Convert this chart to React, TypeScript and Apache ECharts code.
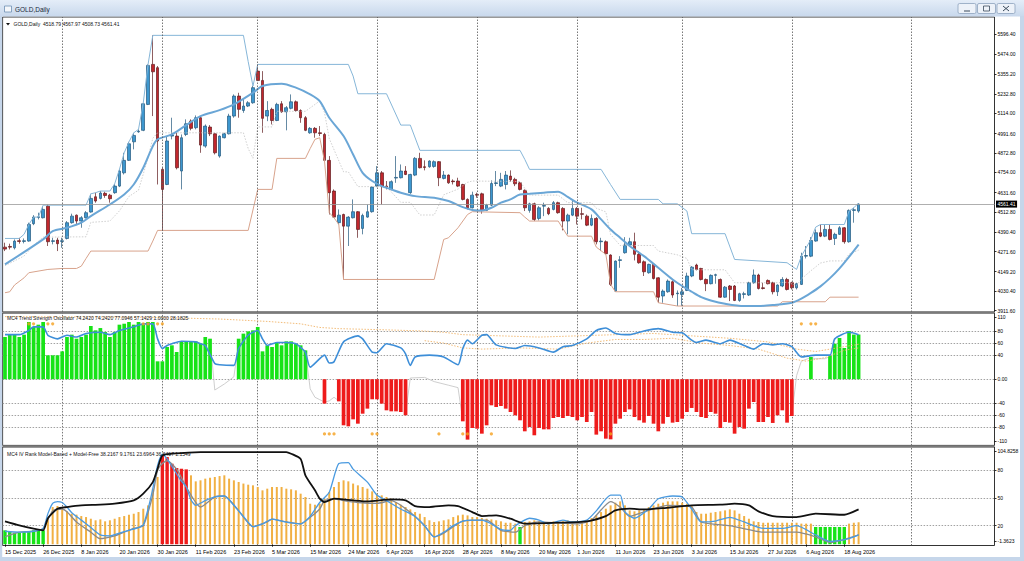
import React, { useEffect, useRef } from 'react';
import * as echarts from 'echarts';

const N_SLOTS = 208;
const FONT = '"Liberation Sans", Arial, sans-serif';

const tickLabels = ['15 Dec 2025', '26 Dec 2025', '8 Jan 2026', '20 Jan 2026', '30 Jan 2026', '11 Feb 2026', '23 Feb 2026', '5 Mar 2026', '15 Mar 2026', '24 Mar 2026', '6 Apr 2026', '16 Apr 2026', '28 Apr 2026', '8 May 2026', '20 May 2026', '1 Jun 2026', '11 Jun 2026', '23 Jun 2026', '3 Jul 2026', '15 Jul 2026', '27 Jul 2026', '6 Aug 2026', '18 Aug 2026'];
const TICK_EVERY = 8;
const monthLines = [12, 33, 53, 78, 99, 120, 142, 165, 190];

const priceLabels = [5596.4, 5474.0, 5355.2, 5232.8, 5114.0, 4991.6, 4872.8, 4754.0, 4631.6, 4512.8, 4390.4, 4271.6, 4149.2, 4030.4, 3911.6];
const oscLabelPos = [103, 80, 60, 40, 0, -40, -60, -80, -103];
const oscLabelText = ['110', '80', '60', '40', '0.00', '-40', '-60', '-80', '-110'];
const oscLevels = [80, 60, 40, 0, -40, -60, -80];
const ivLabelPos = [100.5, 80, 50, 20, 3.5];
const ivLabelText = ['104.8258', '80', '50', '20', '-1.3623'];
const ivLevels = [80, 50, 20];
const lastPrice = 4561.41;

// [open, close, low, high]
const ohlc = [
  [4299, 4287, 4275, 4326], [4303, 4299, 4285, 4320], [4295, 4336, 4285, 4346], [4338, 4334, 4320, 4356], [4334, 4338, 4322, 4352],
  [4336, 4437, 4332, 4448], [4442, 4482, 4433, 4494], [4480, 4484, 4468, 4509], [4478, 4529, 4474, 4549], [4549, 4332, 4306, 4559],
  [4334, 4338, 4316, 4356], [4342, 4320, 4275, 4356], [4334, 4338, 4295, 4356], [4352, 4448, 4346, 4458], [4448, 4488, 4442, 4503],
  [4494, 4458, 4433, 4498], [4458, 4478, 4417, 4488], [4478, 4509, 4474, 4519], [4513, 4596, 4509, 4624], [4606, 4580, 4570, 4631],
  [4596, 4629, 4590, 4641], [4627, 4614, 4600, 4637], [4616, 4594, 4570, 4624], [4631, 4671, 4624, 4685], [4671, 4763, 4665, 4773],
  [4752, 4828, 4742, 4874], [4828, 4929, 4824, 4941], [4941, 4980, 4895, 4996], [5002, 5006, 4996, 5017], [5011, 5173, 5006, 5179],
  [5169, 5407, 5165, 5413], [5413, 5368, 5098, 5590], [5393, 4946, 4681, 5403], [4773, 4651, 4401, 4783], [4681, 4946, 4677, 4976],
  [4976, 4982, 4956, 5088], [4976, 4783, 4773, 4996], [4763, 4966, 4651, 4986], [4986, 5051, 4976, 5078], [5067, 5023, 5011, 5078],
  [5027, 5088, 5017, 5102], [5088, 4921, 4874, 5098], [4915, 5037, 4905, 5047], [5031, 4990, 4976, 5043], [4990, 4874, 4864, 4996],
  [4854, 4976, 4844, 4980], [4966, 4990, 4962, 4996], [4990, 5098, 4986, 5112], [5098, 5220, 5088, 5230], [5220, 5139, 5088, 5240],
  [5132, 5159, 5118, 5206], [5159, 5179, 5153, 5189], [5179, 5271, 5173, 5281], [5372, 5315, 5311, 5413], [5315, 5084, 4996, 5372],
  [5098, 5132, 5067, 5189], [5139, 5071, 5047, 5149], [5071, 5169, 5067, 5179], [5173, 5124, 5118, 5189], [5124, 5149, 5011, 5159],
  [5145, 5185, 5139, 5230], [5185, 5132, 5124, 5193], [5132, 5088, 5057, 5139], [5088, 5011, 5006, 5098], [4996, 5023, 4990, 5031],
  [5023, 4996, 4966, 5031], [4996, 4992, 4976, 5037], [4986, 4828, 4824, 4996], [4828, 4631, 4498, 4854], [4641, 4482, 4478, 4651],
  [4448, 4494, 4437, 4529], [4498, 4427, 4102, 4503], [4427, 4482, 4306, 4488], [4478, 4515, 4474, 4590], [4515, 4407, 4356, 4519],
  [4413, 4492, 4377, 4503], [4482, 4515, 4478, 4559], [4515, 4665, 4509, 4671], [4671, 4752, 4665, 4793], [4752, 4671, 4559, 4763],
  [4671, 4667, 4651, 4702], [4651, 4698, 4645, 4706], [4720, 4724, 4691, 4854], [4722, 4763, 4718, 4803], [4763, 4742, 4738, 4793],
  [4631, 4742, 4624, 4746], [4738, 4840, 4732, 4848], [4840, 4783, 4779, 4874], [4789, 4785, 4767, 4828], [4789, 4824, 4783, 4828],
  [4791, 4820, 4783, 4828], [4820, 4722, 4671, 4824], [4718, 4738, 4712, 4763], [4738, 4691, 4685, 4742], [4702, 4698, 4681, 4712],
  [4702, 4671, 4665, 4722], [4681, 4590, 4584, 4685], [4590, 4539, 4529, 4596], [4539, 4616, 4535, 4637], [4620, 4616, 4600, 4631],
  [4624, 4523, 4503, 4631], [4523, 4555, 4519, 4563], [4555, 4687, 4549, 4706], [4687, 4691, 4671, 4763], [4671, 4712, 4665, 4752],
  [4681, 4738, 4651, 4763], [4732, 4710, 4698, 4767], [4712, 4685, 4671, 4722], [4691, 4651, 4645, 4698], [4645, 4539, 4519, 4651],
  [4523, 4563, 4509, 4570], [4563, 4468, 4458, 4570], [4474, 4539, 4462, 4549], [4549, 4553, 4488, 4570], [4535, 4503, 4494, 4543],
  [4529, 4570, 4523, 4580], [4570, 4509, 4503, 4576], [4535, 4458, 4401, 4543], [4458, 4494, 4377, 4503], [4494, 4535, 4488, 4580],
  [4535, 4488, 4437, 4543], [4503, 4499, 4468, 4539], [4488, 4433, 4427, 4498], [4433, 4474, 4427, 4498], [4474, 4332, 4316, 4482],
  [4332, 4336, 4275, 4356], [4332, 4259, 4255, 4340], [4251, 4072, 4062, 4255], [4031, 4214, 4027, 4218], [4218, 4222, 4173, 4244],
  [4265, 4312, 4259, 4360], [4312, 4332, 4306, 4356], [4332, 4255, 4218, 4387], [4255, 4204, 4198, 4275], [4210, 4149, 4123, 4218],
  [4143, 4194, 4137, 4198], [4194, 4108, 4102, 4198], [4112, 3994, 3960, 4116], [4001, 4031, 3960, 4041], [4027, 4092, 4021, 4102],
  [4088, 4007, 3990, 4096], [4015, 4019, 3940, 4035], [4011, 4027, 3940, 4051], [4035, 4123, 4031, 4143], [4123, 4177, 4116, 4183],
  [4190, 4163, 4157, 4198], [4169, 4102, 4096, 4173], [4102, 4076, 4031, 4108], [4076, 4127, 4072, 4133], [4127, 4131, 4076, 4137],
  [4102, 3994, 3990, 4108], [3994, 4055, 3990, 4062], [4062, 4041, 3970, 4068], [4062, 3974, 3970, 4068], [3974, 4015, 3966, 4021],
  [4011, 4015, 3986, 4027], [4007, 4082, 4001, 4088], [4082, 4129, 4076, 4163], [4129, 4047, 4041, 4137], [4051, 4047, 4041, 4082],
  [4096, 4076, 4072, 4102], [4082, 4027, 4011, 4088], [4027, 4068, 4001, 4072], [4062, 4102, 4055, 4116], [4102, 4041, 4035, 4112],
  [4082, 4051, 4041, 4088], [4051, 4076, 4041, 4082], [4072, 4244, 4068, 4265], [4244, 4248, 4230, 4306], [4244, 4340, 4238, 4360],
  [4336, 4387, 4332, 4407], [4387, 4366, 4360, 4437], [4366, 4407, 4360, 4437], [4407, 4346, 4340, 4437], [4352, 4377, 4312, 4387],
  [4377, 4417, 4373, 4427], [4417, 4332, 4320, 4421], [4332, 4523, 4326, 4529], [4523, 4527, 4448, 4539], [4518.79, 4561.41, 4508.73, 4567.97],
];

// thick moving average [bar, price]
const maLine = [[0, 4194], [8, 4346], [10, 4397], [13, 4417], [16, 4448], [18, 4488], [22, 4559], [25, 4620], [27, 4681], [29, 4783], [31, 4915], [32, 4956], [35, 4986], [38, 5043], [41, 5098], [45, 5134], [48, 5169], [52, 5240], [54, 5281], [58, 5295], [61, 5271], [64, 5230], [66, 5189], [68, 5088], [71, 4976], [73, 4864], [75, 4752], [77, 4702], [79, 4671], [81, 4651], [83, 4631], [86, 4610], [90, 4600], [93, 4580], [96, 4543], [98, 4526], [100, 4523], [102, 4539], [104, 4570], [106, 4590], [108, 4620], [110, 4624], [113, 4631], [116, 4637], [118, 4605], [120, 4570], [123, 4529], [125, 4468], [127, 4407], [129, 4356], [131, 4306], [134, 4244], [137, 4173], [140, 4102], [142, 4062], [144, 4027], [146, 3994], [148, 3974], [151, 3954], [155, 3940], [158, 3940], [161, 3946], [165, 3960], [167, 3985], [169, 4020], [171, 4060], [173, 4110], [175, 4170], [177, 4240], [179, 4315]];
const upperBand = [[0, 4352], [3, 4352], [4, 4377], [5, 4437], [6, 4482], [7, 4482], [8, 4555], [17, 4555], [18, 4624], [19, 4631], [20, 4641], [22, 4641], [23, 4685], [24, 4773], [25, 4874], [26, 4941], [27, 4996], [28, 5017], [29, 5179], [30, 5413], [31, 5590], [50, 5590], [51, 5430], [52, 5281], [53, 5413], [72, 5413], [73, 5342], [74, 5234], [80, 5234], [83, 5043], [85, 5043], [87, 4889], [108, 4889], [109, 4834], [110, 4773], [125, 4773], [127, 4680], [129, 4590], [137, 4590], [138, 4563], [141, 4563], [143, 4519], [144, 4381], [151, 4381], [153, 4224], [164, 4204], [166, 4163], [167, 4244], [169, 4346], [170, 4421], [171, 4437], [176, 4437], [177, 4519], [178, 4539], [179, 4568]];
const lowerBand = [[0, 4021], [1, 4027], [2, 4068], [4, 4112], [5, 4143], [9, 4163], [12, 4169], [15, 4169], [16, 4183], [17, 4230], [18, 4275], [30, 4275], [31, 4336], [32, 4401], [51, 4401], [53, 4651], [56, 4651], [57, 4840], [63, 4840], [64, 4900], [65, 4956], [66, 4966], [67, 4824], [68, 4509], [69, 4478], [70, 4437], [71, 4102], [90, 4102], [92, 4346], [93, 4356], [95, 4417], [97, 4498], [98, 4515], [108, 4509], [109, 4482], [110, 4458], [116, 4458], [118, 4366], [123, 4366], [124, 4299], [126, 4255], [127, 4072], [128, 4027], [136, 4027], [137, 3960], [141, 3940], [162, 3940], [163, 3966], [172, 3966], [173, 3994], [179, 3994]];
const midBand = [[0, 4186], [4, 4245], [6, 4310], [8, 4360], [17, 4362], [18, 4450], [22, 4458], [24, 4520], [26, 4608], [28, 4646], [30, 4844], [31, 4963], [32, 4996], [50, 4996], [51, 4900], [52, 4841], [53, 5032], [56, 5032], [57, 5127], [63, 5127], [66, 5190], [67, 5119], [68, 4961], [71, 4758], [72, 4758], [74, 4668], [80, 4668], [83, 4572], [85, 4572], [87, 4495], [90, 4495], [92, 4618], [95, 4653], [97, 4694], [98, 4702], [108, 4699], [110, 4616], [116, 4616], [118, 4570], [123, 4570], [124, 4536], [126, 4514], [127, 4376], [129, 4309], [136, 4309], [137, 4275], [141, 4252], [143, 4230], [144, 4161], [151, 4161], [153, 4082], [162, 4082], [164, 4085], [166, 4065], [167, 4105], [169, 4155], [171, 4202], [173, 4215], [176, 4215], [177, 4257], [179, 4281]];

// Trend Strength Oscillator histogram (null = not drawn)
const osc = [
  70.1, 74.0, 74.0, 70.1, 74.0, 95.0, 86.7, 90.6, 95.0, 39.7,
  39.7, 39.7, 46.3, 70.1, 74.0, 67.3, 70.1, 74.0, 88.4, 81.2,
  85.0, 78.4, 70.1, 78.4, 90.6, 92.2, 95.0, 90.6, 95.0, 90.6,
  95.0, 95.0, 29.7, 29.7, 53.5, 56.3, 45.2, 61.8, 61.8, 62.9,
  62.9, 59.0, 70.1, 67.3, null, null, null, null, null, 67.3,
  75.7, 79.5, 81.2, 86.7, 46.3, 56.3, 53.5, 61.8, 56.3, 62.9,
  62.9, 59.0, 56.3, 47.9, null, null, null, -40.6, null, null,
  -36.8, -76.6, -78.3, -66.7, -73.9, -57.3, -48.9, -33.4, -33.4, -40.6,
  -51.7, -53.4, -53.4, -54.5, -60.0, null, null, null, null, null,
  null, null, null, null, null, null, -70.0, -100.4, -81.1, -82.2,
  -90.5, -76.6, -43.4, -46.2, -44.5, -48.9, -54.5, -60.0, -68.3, -86.6,
  -79.4, -93.2, -81.1, -83.3, -83.3, -64.5, -62.8, -64.5, -61.2, -62.8,
  -68.3, -62.8, -71.1, -54.5, -92.1, -86.6, -98.8, -99.9, -73.9, -65.6,
  -54.5, -50.1, -62.8, -68.3, -72.2, -61.2, -73.9, -86.6, -73.9, -62.8,
  -72.2, -71.1, -65.6, -54.5, -47.8, -54.5, -62.8, -64.5, -54.5, -57.3,
  -81.1, -71.1, -72.2, -90.5, -79.4, -82.2, -48.9, -37.9, -71.1, -71.1,
  -62.8, -72.7, -60.0, -51.7, -72.2, -61.2, null, null, null, 36.9,
  null, null, null, 39.6, 59.0, 68.5, 51.8, 80.1, 74.2, 74.2,
];
const oscBlue = [[0, 74], [3, 74], [5, 81], [6, 87], [8, 87], [9, 73], [11, 67], [13, 73], [15, 70], [17, 76], [20, 78], [22, 74], [24, 81], [27, 87], [29, 92], [31, 92], [32, 67], [33, 51], [34, 56], [35, 59], [37, 63], [40, 62], [41, 59], [42, 56], [44, 26], [45, 24], [48, 23], [49, 51], [51, 73], [53, 81], [54, 67], [55, 56], [57, 61], [59, 61], [61, 59], [62, 53], [63, 45], [64, 20], [67, 40], [68, 27], [69, 29], [71, 62], [74, 72], [75, 67], [77, 45], [78, 44], [80, 59], [83, 52], [84, 42], [85, 23], [86, 37], [89, 40], [92, 37], [95, 24], [96, 51], [97, 65], [98, 59], [100, 73], [101, 74], [103, 57], [107, 51], [109, 56], [112, 52], [115, 45], [117, 54], [119, 56], [122, 67], [124, 81], [126, 85], [128, 76], [131, 74], [134, 80], [137, 84], [140, 78], [142, 77], [144, 65], [145, 61], [147, 65], [150, 59], [152, 65], [155, 56], [157, 50], [159, 59], [161, 57], [163, 59], [165, 54], [167, 37], [170, 40], [173, 40], [174, 67], [177, 78], [179, 74]];
const oscGraySegments = [
  [[43, 67], [44, -18], [46, -8], [48, 4], [49, 60]],
  [[63, 48], [64, -16], [65, -30], [66, -34], [67, -38], [68, -36], [69, -30], [70, -36]],
  [[84, -58], [85, 2], [88, 3], [90, -4], [93, -10], [95, -14], [96, -68]],
  [[165, -60], [166, 6], [167, 30], [169, 36], [170, 34], [172, 34], [173, 38]],
];
const oscSlow = [[0, 104], [30, 103], [45, 100], [55, 96], [62, 92], [66, 86], [70, 84], [80, 82], [88, 80], [92, 78], [96, 74], [104, 72], [112, 70], [120, 72], [128, 74], [136, 76], [144, 72], [152, 68], [160, 62], [166, 50], [170, 46], [176, 54], [179, 58]];
const oscFast = [[88, 64], [92, 60], [96, 52], [100, 50], [108, 52], [116, 50], [122, 60], [128, 66], [134, 66], [140, 68], [146, 60], [152, 56], [158, 50], [164, 35], [168, 30], [172, 36], [176, 48], [179, 52]];
const dotsTop = [5, 6, 9, 10, 29, 30, 32, 33, 167, 169, 170];
const dotsTopValue = 92;
const dotsBottom = [67, 68, 69, 77, 78, 91, 96, 97, 102, 127];
const dotsBottomValue = -91;

// IV Rank histogram
const ivRank = [
  15.0, 13.2, 12.5, 12.5, 13.2, 13.9, 15.0, 15.0, 15.0, 27.5,
  40.1, 41.2, 37.6, 35.5, 32.9, 31.9, 30.4, 29.3, 27.5, 25.8,
  26.8, 24.7, 25.8, 27.5, 29.3, 30.4, 31.9, 32.9, 34.7, 38.3,
  41.9, 59.9, 72.5, 95.8, 94.0, 86.8, 82.2, 81.4, 80.7, 74.3,
  67.8, 68.9, 70.7, 71.7, 72.5, 73.5, 74.3, 70.7, 68.9, 67.1,
  65.4, 64.2, 63.5, 61.7, 58.1, 59.9, 61.7, 61.7, 61.7, 59.9,
  59.2, 58.1, 54.5, 50.9, 43.7, 42.6, 43.7, 49.1, 56.3, 61.7,
  67.1, 68.9, 67.8, 65.4, 63.5, 61.7, 59.9, 57.0, 54.5, 52.7,
  50.9, 49.1, 45.5, 42.6, 40.1, 37.6, 34.7, 32.9, 29.3, 25.8,
  23.9, 24.7, 25.8, 26.8, 29.3, 31.1, 31.9, 31.1, 29.3, 29.3,
  28.3, 27.5, 26.8, 25.8, 24.7, 23.2, 23.2, 22.2, 18.6, 24.0,
  24.7, 25.8, 24.7, 24.0, 24.0, 24.7, 24.0, 24.7, 25.8, 24.7,
  24.0, 24.7, 25.8, 28.3, 31.1, 34.7, 38.3, 41.9, 44.8, 46.2,
  41.9, 36.5, 35.5, 36.5, 37.6, 40.1, 41.9, 43.7, 44.8, 46.2,
  46.2, 46.2, 44.8, 43.7, 41.9, 34.7, 32.9, 32.9, 34.0, 34.7,
  35.5, 36.5, 37.6, 36.5, 32.9, 30.4, 27.5, 24.7, 24.0, 23.2,
  23.2, 23.2, 23.2, 23.2, 23.2, 23.2, 23.2, 22.2, 22.2, 22.2,
  18.6, 18.6, 18.6, 18.6, 18.6, 18.6, 18.6, 22.2, 23.2, 23.7,
];
const ivGreenRanges = [[0, 8], [108, 108], [170, 176]];
const ivRedRanges = [[33, 38]];
const ivBlack = [[0, 24.7], [3, 20.4], [6, 16.8], [8, 15], [9, 28], [11, 38.3], [13, 40.1], [16, 41.9], [20, 42.6], [23, 43.7], [27, 47.3], [29, 54.5], [31, 67], [32, 81.4], [33, 95.8], [35, 97.6], [41, 99.4], [59, 99.4], [60, 97.6], [62, 92], [63, 74.3], [65, 58.1], [66, 49.1], [67, 45.5], [69, 49.1], [73, 47.3], [76, 46.2], [81, 48.4], [84, 47.3], [86, 41.2], [89, 40.1], [93, 41.9], [95, 41.2], [98, 34.7], [100, 30.4], [103, 31.1], [106, 27.5], [109, 22.2], [116, 23.2], [122, 24.7], [126, 30.4], [128, 36.5], [131, 38.3], [134, 37.6], [138, 39], [144, 41.9], [150, 42.6], [153, 43.7], [156, 41.9], [158, 35.5], [161, 30.4], [166, 29.3], [170, 32.9], [176, 31.8], [179, 37.6]];
const ivBlue = [[0, 14], [3, 13], [6, 14], [8, 17], [9, 33], [10, 44], [11, 46], [12, 45], [13, 40], [14, 34], [16, 26], [18, 18], [20, 10], [22, 9], [24, 12], [26, 15], [28, 18], [29, 21], [30, 38], [31, 60], [32, 85], [33, 97], [34, 92], [35, 84], [36, 76], [37, 68], [38, 62], [39, 48], [40, 42], [42, 47], [44, 51], [46, 52], [48, 42], [50, 30], [52, 19], [54, 22], [56, 27], [58, 25], [60, 23], [62, 22], [64, 30], [66, 45], [68, 56], [70, 87], [72, 88], [73, 81], [76, 67], [78, 53], [80, 47], [83, 38], [86, 30], [88, 20], [90, 8], [92, 13], [94, 20], [96, 25], [98, 26], [100, 26], [102, 22], [104, 16], [106, 15], [107, 20], [110, 28], [112, 26], [114, 22], [117, 26], [119, 24], [122, 26], [124, 36], [127, 53], [129, 53], [130, 35], [132, 28], [135, 38], [137, 49], [140, 52], [142, 51], [144, 38], [146, 24], [149, 25], [152, 29], [155, 24], [159, 17], [163, 17], [166, 20], [170, 10], [173, 3], [177, 6], [179, 10]];
const ivGray = [[0, 8], [3, 13], [6, 14], [8, 17], [10, 36], [12, 38], [13, 35], [15, 24], [18, 13], [20, 6], [23, 9], [25, 13], [27, 17], [29, 20], [31, 53], [32, 80], [33, 87], [34, 90], [36, 81], [38, 62], [40, 45], [41, 40], [44, 51], [46, 52], [49, 36], [52, 19], [55, 24], [56, 27], [59, 24], [62, 22], [64, 29], [66, 38], [67, 47], [69, 49], [71, 47], [74, 45], [78, 44], [81, 47], [83, 42], [86, 30], [88, 20], [90, 8], [92, 12], [96, 25], [101, 26], [104, 15], [107, 13], [109, 20], [112, 24], [116, 23], [120, 22], [123, 26], [127, 46], [129, 40], [131, 30], [134, 35], [139, 42], [144, 40], [146, 24], [152, 20], [159, 13], [166, 13], [170, 8], [173, 2], [176, 5], [179, 10]];

const UP = '#3d97cf', DOWN = '#c1272d', UPB = '#23587c', DOWNB = '#5e1a1c';
const GREEN = '#17e317', RED = '#ee1b1b', ORANGE = '#f1b043';

const inRanges = (i, ranges) => ranges.some(([a, b]) => i >= a && i <= b);
const lookupText = (pos, text) => (v) => {
  const k = pos.findIndex((p) => Math.abs(p - v) < 1e-6);
  return k >= 0 ? text[k] : '';
};

function buildOption() {
  const cats = Array.from({ length: N_SLOTS }, (_, i) => String(i));
  const showTick = (idx) => idx % TICK_EVERY === 0 && idx / TICK_EVERY < tickLabels.length;
  const grids = [
    { left: 2.6, top: 17, width: 991.9, height: 295 },
    { left: 2.6, top: 313, width: 991.9, height: 132.4 },
    { left: 2.6, top: 447, width: 991.9, height: 98.5 },
  ].map((g) => ({ ...g, show: true, borderColor: '#000', borderWidth: 0.8, backgroundColor: '#fff', containLabel: false, outerBoundsMode: 'none' }));

  const hiddenX = (gridIndex) => ({
    type: 'category', gridIndex, data: cats, boundaryGap: true,
    axisLine: { show: false }, axisTick: { show: false }, axisLabel: { show: false }, splitLine: { show: false },
  });
  const xAxis = [
    hiddenX(0),
    hiddenX(1),
    {
      ...hiddenX(2),
      axisTick: { show: true, interval: (i) => showTick(i), alignWithLabel: true, length: 2.5, lineStyle: { color: '#000', width: 0.8 } },
      axisLabel: {
        show: true, interval: (i) => showTick(i), formatter: (_v, i) => tickLabels[i / TICK_EVERY] || '',
        align: 'left', fontSize: 5.5, fontFamily: FONT, color: '#000', margin: 3,
      },
    },
    hiddenX(2),
  ];
  const yBase = (gridIndex, min, max, pos, fmt) => ({
    type: 'value', gridIndex, position: 'right', min, max, scale: true,
    axisLine: { show: false }, splitLine: { show: false },
    axisTick: { show: true, customValues: pos, length: 2, lineStyle: { color: '#000', width: 0.8 } },
    axisLabel: { show: true, customValues: pos, formatter: fmt, fontSize: 5, fontFamily: FONT, color: '#000', margin: 3 },
  });
  const yAxis = [
    yBase(0, 3903.6, 5701.9, priceLabels, (v) => Number(v).toFixed(2)),
    yBase(1, -110, 110, oscLabelPos, lookupText(oscLabelPos, oscLabelText)),
    yBase(2, -1.3623, 104.8258, ivLabelPos, lookupText(ivLabelPos, ivLabelText)),
  ];

  const vLines = monthLines.map((i) => ({ xAxis: i }));
  const gridLineStyle = { color: '#555', type: [1.5, 1.5], width: 0.8 };
  const levelStyle = { color: '#8a8a8a', type: [1.5, 1.5], width: 0.8 };
  const mkLines = (extra) => ({
    silent: true, symbol: ['none', 'none'], animation: false, label: { show: false },
    lineStyle: gridLineStyle, data: [...vLines, ...extra],
  });

  const line = (xi, yi, data, color, width, extra = {}) => ({
    type: 'line', xAxisIndex: xi, yAxisIndex: yi, data, showSymbol: false, symbol: 'none',
    lineStyle: { color, width }, itemStyle: { color }, silent: true, ...extra,
  });

  const series = [
    {
      type: 'candlestick', xAxisIndex: 0, yAxisIndex: 0, data: ohlc, barWidth: 3.2, z: 2,
      itemStyle: { color: UP, color0: DOWN, borderColor: UPB, borderColor0: DOWNB, borderWidth: 0.7 },
      markLine: mkLines([
        {
          yAxis: lastPrice, lineStyle: { color: '#9a9a9a', type: 'solid', width: 0.8 },
          label: {
            show: true, position: 'end', formatter: lastPrice.toFixed(2), color: '#fff', backgroundColor: '#000',
            fontSize: 5, fontFamily: FONT, padding: [1, 1.5], distance: 1.5,
          },
        },
      ]),
    },
    line(0, 0, midBand, '#c4c4c4', 0.8, { lineStyle: { color: '#c4c4c4', width: 0.8, type: [1.5, 1.5] }, z: 3 }),
    line(0, 0, upperBand, '#86b6d8', 1, { z: 3 }),
    line(0, 0, lowerBand, '#d8a38c', 1, { z: 3 }),
    line(0, 0, maLine, '#6aa6d6', 2, { smooth: 0.3, z: 4 }),

    {
      type: 'bar', xAxisIndex: 1, yAxisIndex: 1, barWidth: 3.7, z: 2,
      data: osc.map((v) => (v === null ? null : { value: v, itemStyle: { color: v >= 0 ? GREEN : RED } })),
      markLine: { ...mkLines(oscLevels.map((v) => ({ yAxis: v, lineStyle: levelStyle }))), z: 1 },
    },
    ...oscGraySegments.map((seg) => line(1, 1, seg, '#c8c8c8', 0.9, { z: 1 })),
    line(1, 1, oscSlow, '#f0b46a', 0.9, { lineStyle: { color: '#f0b46a', width: 0.9, type: [1.5, 1.5] }, z: 3 }),
    line(1, 1, oscFast, '#f0b46a', 0.9, { lineStyle: { color: '#f0b46a', width: 0.9, type: [1.5, 1.5] }, z: 3 }),
    line(1, 1, oscBlue, '#3d8ed8', 1.6, { smooth: 0.2, z: 4 }),
    {
      type: 'scatter', xAxisIndex: 1, yAxisIndex: 1, symbolSize: 3.2, silent: true, z: 5,
      itemStyle: { color: '#f5a01e' },
      data: [...dotsTop.map((i) => [i, dotsTopValue]), ...dotsBottom.map((i) => [i, dotsBottomValue])],
    },

    {
      type: 'bar', xAxisIndex: 2, yAxisIndex: 2, barWidth: 2, z: 2, itemStyle: { color: ORANGE },
      data: ivRank.map((v, i) => (inRanges(i, ivGreenRanges) || inRanges(i, ivRedRanges) ? null : v)),
      markLine: { ...mkLines(ivLevels.map((v) => ({ yAxis: v, lineStyle: levelStyle }))), z: 1 },
    },
    {
      type: 'bar', xAxisIndex: 3, yAxisIndex: 2, barWidth: 3.4, z: 2,
      data: ivRank.map((v, i) => (inRanges(i, ivGreenRanges) ? { value: v, itemStyle: { color: GREEN } }
        : inRanges(i, ivRedRanges) ? { value: v, itemStyle: { color: RED } } : null)),
    },
    line(2, 2, ivGray, '#8a8a8a', 1.3, { smooth: 0.2, z: 3 }),
    line(2, 2, ivBlue, '#4b9be0', 1.3, { smooth: 0.2, z: 4 }),
    line(2, 2, ivBlack, '#111111', 1.8, { smooth: 0.2, z: 5 }),
  ];

  const txt = (x, y, text, size, extra = {}) => ({
    type: 'text', x, y, silent: true, z: 100,
    style: { text, fontSize: size, fontFamily: FONT, fill: '#111', verticalAlign: 'middle', ...extra },
  });
  const btn = (x) => ({
    type: 'rect', shape: { x, y: 3.5, width: 18, height: 10, r: 1.5 }, silent: true, z: 100,
    style: { fill: '#edf2f9', stroke: '#8da2bc', lineWidth: 0.8 },
  });
  const graphic = [
    {
      type: 'rect', shape: { x: 0, y: 0, width: 1024, height: 16.5 }, silent: true, z: 90,
      style: { fill: new echarts.graphic.LinearGradient(0, 0, 0, 1, [{ offset: 0, color: '#e4edf8' }, { offset: 1, color: '#c8d8ec' }]) },
    },
    { type: 'rect', shape: { x: 0, y: 16, width: 2.2, height: 545 }, silent: true, z: 90, style: { fill: '#c6d6ea' } },
    { type: 'rect', shape: { x: 1020, y: 16, width: 4, height: 545 }, silent: true, z: 90, style: { fill: '#c6d6ea' } },
    { type: 'rect', shape: { x: 0, y: 557, width: 1024, height: 4 }, silent: true, z: 90, style: { fill: '#c6d6ea' } },
    { type: 'rect', shape: { x: 4.5, y: 6, width: 7, height: 6 }, silent: true, z: 100, style: { fill: '#f4f7fb', stroke: '#6f8fb3', lineWidth: 0.8 } },
    txt(15, 9.5, 'GOLD,Daily', 6.5, { fill: '#1b2a3a' }),
    btn(958), btn(977.5), btn(997),
    { type: 'line', shape: { x1: 964, y1: 11, x2: 970, y2: 11 }, silent: true, z: 101, style: { stroke: '#3a4a5c', lineWidth: 1 } },
    { type: 'rect', shape: { x: 983.5, y: 6, width: 6, height: 5 }, silent: true, z: 101, style: { fill: 'none', stroke: '#3a4a5c', lineWidth: 0.8 } },
    { type: 'line', shape: { x1: 1003, y1: 6, x2: 1009, y2: 11 }, silent: true, z: 101, style: { stroke: '#3a4a5c', lineWidth: 1 } },
    { type: 'line', shape: { x1: 1009, y1: 6, x2: 1003, y2: 11 }, silent: true, z: 101, style: { stroke: '#3a4a5c', lineWidth: 1 } },
    { type: 'rect', shape: { x: 2.6, y: 311.6, width: 991.9, height: 1.8 }, silent: true, z: 95, style: { fill: '#7a7a7a' } },
    { type: 'rect', shape: { x: 2.6, y: 445.2, width: 991.9, height: 1.8 }, silent: true, z: 95, style: { fill: '#7a7a7a' } },
    { type: 'polygon', shape: { points: [[6, 23], [10, 23], [8, 25.6]] }, silent: true, z: 100, style: { fill: '#111' } },
    txt(13.5, 24.3, 'GOLD,Daily  4518.79 4567.97 4508.73 4561.41', 5),
    txt(7, 317.5, 'MC4 Trend Strength Oscillator 74.2420 74.2420 77.0946 57.1429 1.0000 28.1825', 5),
    txt(7, 454, 'MC4 IV Rank Model-Based + Model-Free 38.2167 9.1761 23.6964 36.6407 1.1549', 5),
  ];

  return { animation: false, backgroundColor: '#fff', grid: grids, xAxis, yAxis, series, graphic };
}

export default function App() {
  const ref = useRef(null);
  useEffect(() => {
    const chart = echarts.init(ref.current, null, { renderer: 'svg' });
    chart.setOption(buildOption());
    return () => chart.dispose();
  }, []);
  return <div ref={ref} style={{ position: 'fixed', left: 0, top: 0, width: 1024, height: 561, background: '#fff' }} />;
}
